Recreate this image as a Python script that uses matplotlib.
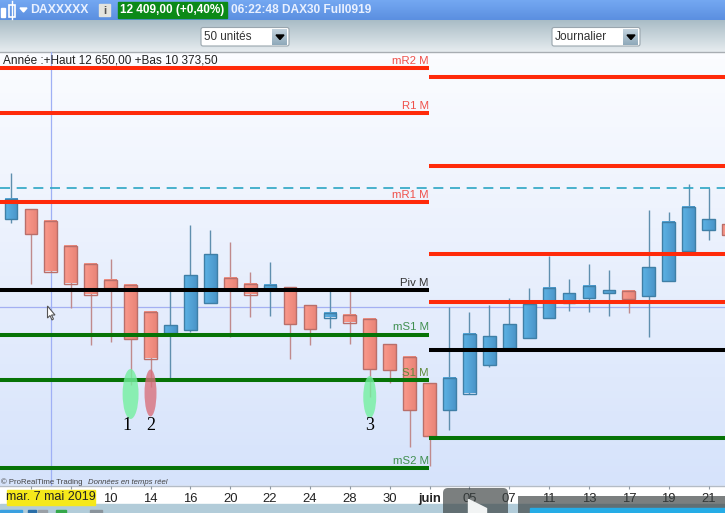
import numpy as np
import matplotlib
matplotlib.use('Agg')
import matplotlib.pyplot as plt
from matplotlib.patches import Ellipse, Rectangle, FancyBboxPatch, Polygon

plt.rcParams['font.family'] = ['Liberation Sans', 'DejaVu Sans']

# daily candles (price = 12409 at the dashed line)
opens = [12314.5, 12344.5, 12308.5, 12235, 12179.5, 12133, 12118, 12037, 11972.5, 11981.5, 12062.5,
         12138.5, 12119.5, 12106, 12110.5, 12056.5, 12019, 12028, 12016, 11939.5, 11902, 11822.5,
         11741.5, 11791, 11877.5, 11927.5, 11958.5, 12016.5, 12062.5, 12076.5, 12093.5, 12099.5,
         12084.5, 12128.5, 12218.5, 12282.5, 12299.5]
highs = [12452.5, 12344.5, 12308.5, 12235, 12182.5, 12194.5, 12118, 12037, 12107.5, 12298, 12283,
         12246.5, 12155.5, 12187, 12110.5, 12056.5, 12101.5, 12101.5, 12016, 11939.5, 11902, 11822.5,
         12050.5, 12035.5, 12056.5, 12077.5, 12107.5, 12203.5, 12133.5, 12179.5, 12162.5, 12103,
         12340.5, 12336.5, 12419.5, 12408.5, 12299.5]
lows = [12302.5, 12121, 12157, 12047.5, 11936.5, 11946, 11816.5, 11810.5, 11837.5, 11975.5, 12062.5,
        11961.5, 12020.5, 12023.5, 11894.5, 11936.5, 11989, 11941, 11780.5, 11822.5, 11630.5, 11573.5,
        11681.5, 11791, 11870.5, 11927.5, 11958.5, 12016.5, 12039.5, 12036.5, 12024.5, 12033.5,
        11959.5, 12128.5, 12218.5, 12251.5, 12267.5]
closes = [12376, 12269.5, 12157, 12121, 12088, 12107.5, 11954.5, 11896, 11996.5, 12146.5, 12209.5,
          12106, 12088, 12118, 12000.5, 11984.5, 12032.5, 12004, 11864.5, 11862.5, 11741.5, 11664.5,
          11839, 11969.5, 11963.5, 11999.5, 12059.5, 12108.5, 12091.5, 12114.5, 12101.5, 12073.5,
          12169.5, 12306.5, 12351.5, 12315.5, 12267.5]

# monthly pivots, left part (May) and right part (June)
may_levels = [12767.5, 12632.5, 12367, 12103, 11968, 11831.5, 11569]
may_names = ['mR2 M', 'R1 M', 'mR1 M', 'Piv M', 'mS1 M', 'S1 M', 'mS2 M']
may_colors = ['#ff2a0a', '#ff2a0a', '#ff2a0a', '#000000', '#067306', '#067306', '#067306']
may_text = ['#f0504a', '#f0504a', '#f0504a', '#333333', '#3f8f4f', '#5f8a3a', '#3f8f4f']
june_levels = [12740.5, 12473.5, 12209.5, 12067, 11921.5, 11657.5]
june_colors = ['#ff2a0a', '#ff2a0a', '#ff2a0a', '#ff2a0a', '#000000', '#067306']
last_price = 12409
cross_price = 12052

tick_pos = [5, 7, 9, 11, 13, 15, 17, 19, 21, 23, 25, 27, 29, 31, 33, 35]
tick_labels = ['10', '14', '16', '20', '22', '24', '28', '30', 'juin', '05', '07', '11', '13', '17', '19', '21']
small_ticks = [1, 3]

mark_x = [6, 7, 18]
mark_price = [11789.5, 11792.5, 11780.5]
mark_names = ['1', '2', '3']
mark_colors = ['#74f0a0', '#d9707c', '#74f0a0']
mark_w = [0.8, 0.6, 0.65]
mark_h = [150, 141, 126]
label_x = [5.8, 7, 18]
label_price = 11696

W, H = 725, 513
fig = plt.figure(figsize=(W / 100, H / 100), dpi=100)

# background layer in screen pixels
bg = fig.add_axes([0, 0, 1, 1])
bg.set_xlim(0, W)
bg.set_ylim(H, 0)
bg.axis('off')


def grad(a, x0, x1, y0, y1, c0, c1, z=1, vertical=True):
    c0 = np.array(matplotlib.colors.to_rgb(c0))
    c1 = np.array(matplotlib.colors.to_rgb(c1))
    t = np.linspace(0, 1, 64)[:, None]
    im = (c0 + (c1 - c0) * t)[:, None, :] if vertical else (c0 + (c1 - c0) * t)[None, :, :].reshape(1, 64, 3)
    a.imshow(im, extent=(x0, x1, y1, y0), aspect='auto', zorder=z, interpolation='nearest')


grad(bg, 0, W, 0, 20, '#74a8f2', '#5b8fe0')
grad(bg, 0, W, 20, 52, '#a9bcc6', '#e6ecef')
grad(bg, 0, W, 52, 486, '#fbfcff', '#d6e3fb')
bg.add_patch(Rectangle((0, 486), W, 18, color='white', zorder=2))
bg.add_patch(Rectangle((0, 504), W, 9, color='#b2ccd9', zorder=2))
bg.plot([0, W], [52, 52], color='#a8adb2', lw=1, zorder=3)
bg.plot([0, W], [486, 486], color='#b4bcc6', lw=1, zorder=3)

# dropdowns
for x0, lab, fs in [(201, '50 unités', 8.4), (552, 'Journalier', 8.6)]:
    bg.add_patch(FancyBboxPatch((x0, 27.5), 88, 18.5, boxstyle='round,pad=0,rounding_size=2',
                                fc='white', ec='#9aa6ae', lw=0.8, zorder=3))
    grad(bg, x0 + 71, x0 + 86, 29, 45, '#c4d3de', '#8fa9ba', z=4)
    bg.add_patch(Polygon([[x0 + 75, 35], [x0 + 83, 35], [x0 + 79, 39.5]], color='black', zorder=5))
    bg.text(x0 + 3, 36.5, lab, fontsize=fs, color='#333333', va='center', zorder=5)

# header
bg.add_patch(Rectangle((1, 8), 4, 9, color='white', zorder=3))
bg.add_patch(Rectangle((9, 4.5), 6, 12, fc='none', ec='white', lw=1.2, zorder=3))
bg.plot([12, 12], [1, 19], color='white', lw=1, zorder=3)
bg.add_patch(Polygon([[20, 8], [27, 8], [23.5, 12]], color='white', zorder=3))
bg.text(30.5, 10, 'DAXXXXX', color='#e8f0ff', fontsize=8.8, fontweight='bold', va='center', zorder=3)
bg.add_patch(Rectangle((99, 4), 11, 12, color='#e4e4de', zorder=3))
bg.text(104.5, 10.5, 'i', color='#555555', fontsize=8, fontweight='bold', ha='center', va='center', zorder=4)
bg.add_patch(Rectangle((118, 2), 109, 16, color='#0c8a18', zorder=3))
bg.text(120.5, 10, '12 409,00 (+0,40%)', color='white', fontsize=8.5, fontweight='bold', va='center', zorder=4)
bg.text(231, 10, '06:22:48 DAX30 Full0919', color='#e8f0ff', fontsize=8.6, fontweight='bold', va='center', zorder=3)

# price chart, same pixels as the plot area
ax = fig.add_axes([0, (H - 486) / H, 1, (486 - 52) / H])
ax.patch.set_alpha(0)
n = len(opens)
for i in range(n):
    up = closes[i] >= opens[i]
    edge = '#3f7fa6' if up else '#b96f6a'
    ax.vlines(i, lows[i], highs[i], color='#5f8fae' if up else '#c08a8c', lw=1, zorder=2)
    lo, hi = min(opens[i], closes[i]), max(opens[i], closes[i])
    c0, c1 = ('#5db4e6', '#4a94c8') if up else ('#fb9a8c', '#e98477')
    grad(ax, i - 0.32, i + 0.32, hi, lo, c0, c1, z=3, vertical=False)
    ax.add_patch(Rectangle((i - 0.32, lo), 0.64, hi - lo, fc='none', ec=edge, lw=1, zorder=4))

ax.hlines(may_levels, -1, 20.97, colors=may_colors, lw=2.9, zorder=5)
ax.hlines(june_levels, 20.97, 40, colors=june_colors, lw=2.9, zorder=5)
ax.axhline(last_price, color='#2ba5c4', lw=1.2, dashes=(6, 4), zorder=5)
ax.axhline(cross_price, color='#a4b0f2', lw=0.9, zorder=1)
ax.axvline(2, color='#9fb0f5', lw=0.9, zorder=1)

for k in range(len(mark_x)):
    ax.add_patch(Ellipse((mark_x[k], mark_price[k]), mark_w[k], mark_h[k], fc=mark_colors[k], ec='none',
                         alpha=0.8, zorder=6))
    ax.text(label_x[k], label_price, mark_names[k], family='Liberation Serif', fontsize=13, color='black',
            ha='center', va='center', zorder=7)

for y, name, c in zip(may_levels, may_names, may_text):
    ax.text(20.95, y + 6, name, color=c, fontsize=8.2, ha='right', va='bottom', zorder=7)

ax.set_xlim(-11 / 19.93, (W - 11) / 19.93)
ax.set_ylim(12971.5 - 3 * 486, 12971.5 - 3 * 52)
ax.set_yticks([])
ax.set_xticks(tick_pos + small_ticks)
ax.set_xticklabels(tick_labels + ['', ''], fontsize=9.4, color='#222222')
ax.tick_params(axis='x', direction='out', length=2.2, width=0.8, color='#8f99a4', pad=3)
for lab in ax.get_xticklabels():
    if lab.get_text() == 'juin':
        lab.set_fontweight('bold')
for s in ax.spines.values():
    s.set_visible(False)

ax.text(0.004, 0.9945, 'Année :+Haut 12 650,00 +Bas 10 373,50', transform=ax.transAxes, fontsize=8.45,
        color='#222222', va='top', zorder=7)
ax.text(0.002, 0.0035, '© ProRealTime Trading', transform=ax.transAxes, fontsize=5.6, color='#444444', zorder=7)
ax.text(0.121, 0.0035, 'Données en temps réel', transform=ax.transAxes, fontsize=5.6, style='italic',
        color='#444444', zorder=7)

# overlays on top of everything
top = fig.add_axes([0, 0, 1, 1])
top.patch.set_alpha(0)
top.set_xlim(0, W)
top.set_ylim(H, 0)
top.axis('off')
top.add_patch(Polygon([[47.5, 306], [47.5, 318], [50, 315.5], [52, 320], [53.5, 319], [51.5, 315], [55, 315]],
                      fc='white', ec='#555555', lw=0.8))
top.add_patch(Rectangle((7, 489.5), 88, 15, color='#f5e81a', zorder=3))
top.text(51, 497.2, 'mar. 7 mai 2019', fontsize=9, color='#222222', ha='center', va='center', zorder=4)
top.add_patch(FancyBboxPatch((443, 488), 65, 30, boxstyle='round,pad=0,rounding_size=5',
                             fc='#3c4343', ec='none', alpha=0.68, zorder=5))
top.add_patch(Rectangle((518, 496), 207, 20, fc='#3c4343', ec='none', alpha=0.68, zorder=5))
top.add_patch(Rectangle((530, 508), 195, 5, color='#25ace6', zorder=6))
top.add_patch(Polygon([[468, 499], [468, 513], [486, 513], [486, 508]], color='#f2f4f4', zorder=6))
# toolbar stubs along the bottom edge
top.add_patch(Rectangle((0, 510), 22, 3, color='#3aa0e0', zorder=3))
top.add_patch(Rectangle((28, 510), 8, 3, color='#2a6ea8', zorder=3))
top.add_patch(Rectangle((38, 510), 9, 3, color='#9aa0a6', zorder=3))
top.add_patch(Rectangle((56, 510), 10, 3, color='#35a84a', zorder=3))
top.add_patch(Rectangle((90, 510), 12, 3, color='#8a949c', zorder=3))

fig.savefig('out.png', dpi=100)
